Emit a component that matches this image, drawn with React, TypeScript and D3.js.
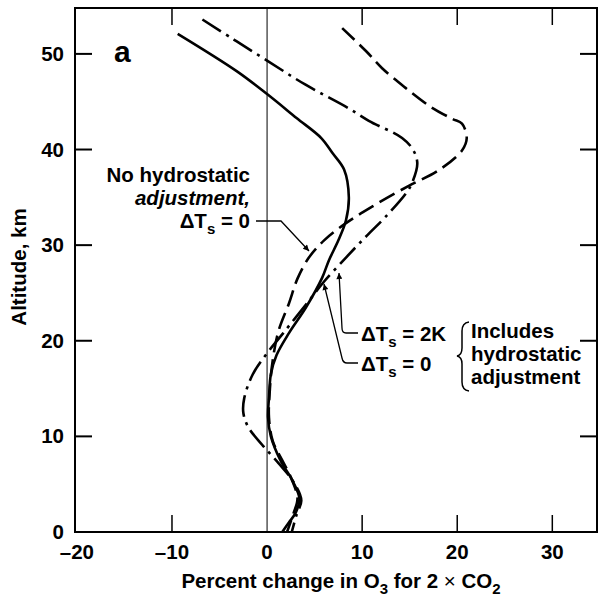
import React, { useEffect, useRef } from 'react';
import * as d3 from 'd3';

// Percent change in O3 (x) against altitude in km (y)
const hydroPct = [-9.4, -3.2, 0, 3.1, 5.7, 6.9, 8.1, 8.6, 8.3, 7.5, 6.5, 5.8, 4.1, 2.3, 1, 0.4, 0.2, 0.1, 0.4, 1.4, 2.6, 3.4, 3, 2.3, 1.6];
const hydroAlt = [52.1, 48.2, 45.8, 43.3, 41.2, 39.6, 37.9, 35, 32.6, 30.5, 28.4, 26.6, 23.5, 20.8, 18.5, 16.5, 14, 12, 10, 7.5, 5.5, 3.5, 2, 1, 0];

const warmPct = [-6.8, -3.5, 0, 4, 8.6, 10.7, 14.2, 15.4, 15.8, 15.2, 14.6, 12.5, 10.5, 8.3, 6, 4.5, 1.7, 0, -1.5, -2.4, -2.5, -2, -0.5, 1.2, 2.8, 3.6, 3.1, 2.6];
const warmAlt = [53.6, 51.5, 49.3, 46.8, 44.3, 43, 41.2, 39.9, 38.5, 36.4, 35.4, 33, 31, 28.7, 26.2, 24.3, 20.8, 18.7, 16.5, 14, 12.5, 11, 9.1, 7.2, 5.2, 3.3, 1.8, 0];

const noAdjPct = [7.9, 10.4, 12.1, 14.5, 17.3, 19.5, 20.5, 21, 20.5, 18, 14.9, 11, 8.3, 6, 4.4, 3.2, 2.3, 1.2, 0.6, 0.3, 0.2, 0.6, 1.6, 2.6, 3.2, 2.8, 2.1];
const noAdjAlt = [52.7, 50.3, 48.5, 46.5, 44.4, 43.2, 42.7, 41.2, 39.9, 37.8, 36.2, 34, 32.3, 30.5, 28.7, 26.5, 23.9, 21, 18, 15, 12, 9.5, 7.5, 5.5, 3.5, 2, 0];

const pctTicks = [-20, -10, 0, 10, 20, 30];
const altTicks = [0, 10, 20, 30, 40, 50];
const pctTickLabels = ['–20', '–10', '0', '10', '20', '30'];

const FONT = '"Liberation Sans", Arial, Helvetica, sans-serif';

const OzoneProfile: React.FC = () => {
  const svgRef = useRef<SVGSVGElement>(null);
  const width = 599;
  const height = 605;

  useEffect(() => {
    if (!svgRef.current) return;
    const svg = d3.select(svgRef.current);
    svg.selectAll('*').remove();

    const x = d3.scaleLinear().domain([-20.2, 34.7]).range([75, 597]);
    const y = d3.scaleLinear().domain([0, 54.8]).range([532, 8]);
    const [x0, x1] = x.range();
    const [y0, y1] = y.range();

    svg.append('defs').append('marker')
      .attr('id', 'arrow')
      .attr('viewBox', '0 0 10 10')
      .attr('refX', 10).attr('refY', 5)
      .attr('markerWidth', 9).attr('markerHeight', 6)
      .attr('markerUnits', 'userSpaceOnUse')
      .attr('orient', 'auto')
      .append('path').attr('d', 'M0,0 L10,5 L0,10 Z').attr('fill', '#000');

    // frame
    svg.append('rect')
      .attr('x', x0).attr('y', y1)
      .attr('width', x1 - x0).attr('height', y0 - y1)
      .attr('fill', 'none').attr('stroke', '#000').attr('stroke-width', 2);

    // zero line
    svg.append('line')
      .attr('x1', x(0)).attr('x2', x(0)).attr('y1', y1).attr('y2', y0)
      .attr('stroke', '#000').attr('stroke-width', 1);

    const tickLen = 17;
    const inner = pctTicks.filter(t => t !== 0 && t !== -20);
    inner.forEach(t => {
      svg.append('line').attr('x1', x(t)).attr('x2', x(t)).attr('y1', y0).attr('y2', y0 - tickLen)
        .attr('stroke', '#000').attr('stroke-width', 1.5);
      svg.append('line').attr('x1', x(t)).attr('x2', x(t)).attr('y1', y1).attr('y2', y1 + tickLen)
        .attr('stroke', '#000').attr('stroke-width', 1.5);
    });
    altTicks.filter(t => t > 0).forEach(t => {
      svg.append('line').attr('x1', x0).attr('x2', x0 + tickLen).attr('y1', y(t)).attr('y2', y(t))
        .attr('stroke', '#000').attr('stroke-width', 2);
      svg.append('line').attr('x1', x1).attr('x2', x1 - tickLen).attr('y1', y(t)).attr('y2', y(t))
        .attr('stroke', '#000').attr('stroke-width', 2);
    });

    const labels = svg.append('g')
      .attr('font-family', FONT).attr('font-weight', 'bold').attr('font-size', 20.5).attr('fill', '#000');

    pctTicks.forEach((t, i) => {
      labels.append('text').attr('x', x(t)).attr('y', 559)
        .attr('text-anchor', 'middle').text(pctTickLabels[i]);
    });
    altTicks.forEach(t => {
      labels.append('text').attr('x', 64).attr('y', y(t) + 7)
        .attr('text-anchor', 'end').text(String(t));
    });

    // axis titles
    const xt = labels.append('text').attr('x', 341).attr('y', 588).attr('text-anchor', 'middle');
    xt.append('tspan').text('Percent change in O');
    xt.append('tspan').attr('font-size', 15).attr('dy', 6).text('3');
    xt.append('tspan').attr('dy', -6).text(' for 2 ');
    xt.append('tspan').attr('font-weight', 'normal').text('×');
    xt.append('tspan').text(' CO');
    xt.append('tspan').attr('font-size', 15).attr('dy', 6).text('2');

    labels.append('text')
      .attr('transform', 'translate(26,267) rotate(-90)')
      .attr('text-anchor', 'middle').text('Altitude, km');

    labels.append('text').attr('x', 114).attr('y', 62).attr('font-size', 30).text('a');

    // curves
    const line = d3.line<[number, number]>()
      .x(d => x(d[0]))
      .y(d => y(d[1]))
      .curve(d3.curveCatmullRom.alpha(0.5));

    const series = [
      { pct: hydroPct, alt: hydroAlt, dash: null },
      { pct: warmPct, alt: warmAlt, dash: '22,6,3,6' },
      { pct: noAdjPct, alt: noAdjAlt, dash: '17,7' },
    ];
    series.forEach(s => {
      const pts = s.pct.map((p, i) => [p, s.alt[i]] as [number, number]);
      svg.append('path')
        .attr('d', line(pts))
        .attr('fill', 'none')
        .attr('stroke', '#000')
        .attr('stroke-width', 2.6)
        .attr('stroke-dasharray', s.dash)
        .attr('stroke-linejoin', 'round');
    });

    // leader lines
    const leaders = [
      'M256,221 L281,221 L309,251',
      'M358,333 L346,333 Q342,333 342,328 L339,273',
      'M358,363 L347,363 Q343,363 342,358 L324,284',
    ];
    leaders.forEach(d => {
      svg.append('path').attr('d', d).attr('fill', 'none')
        .attr('stroke', '#000').attr('stroke-width', 1.3)
        .attr('marker-end', 'url(#arrow)');
    });

    // brace
    svg.append('path')
      .attr('d', 'M469,322 Q462,323 462,331 L462,348 Q462,355 457,356 Q462,357 462,364 L462,382 Q462,390 469,391')
      .attr('fill', 'none').attr('stroke', '#000').attr('stroke-width', 1.5);

    const deltaT = (g: d3.Selection<SVGGElement, unknown, null, undefined>, xp: number, yp: number, anchor: string, rest: string) => {
      const t = g.append('text').attr('x', xp).attr('y', yp).attr('text-anchor', anchor);
      t.append('tspan').text('ΔT');
      t.append('tspan').attr('font-size', 15).attr('dy', 6).text('s');
      t.append('tspan').attr('dy', -6).text(rest);
    };

    labels.append('text').attr('x', 250).attr('y', 182).attr('text-anchor', 'end').text('No hydrostatic');
    labels.append('text').attr('x', 250).attr('y', 205).attr('text-anchor', 'end')
      .attr('font-style', 'italic').text('adjustment,');
    deltaT(labels, 250, 228, 'end', ' = 0');

    deltaT(labels, 361, 341, 'start', ' = 2K');
    deltaT(labels, 361, 371, 'start', ' = 0');

    labels.append('text').attr('x', 471).attr('y', 338).text('Includes');
    labels.append('text').attr('x', 471).attr('y', 361).text('hydrostatic');
    labels.append('text').attr('x', 471).attr('y', 384).text('adjustment');
  }, []);

  return (
    <svg
      ref={svgRef}
      width={width}
      height={height}
      viewBox={`0 0 ${width} ${height}`}
      style={{ position: 'absolute', left: 0, top: 0, background: '#fff' }}
    />
  );
};

export default function App() {
  return <OzoneProfile />;
}
